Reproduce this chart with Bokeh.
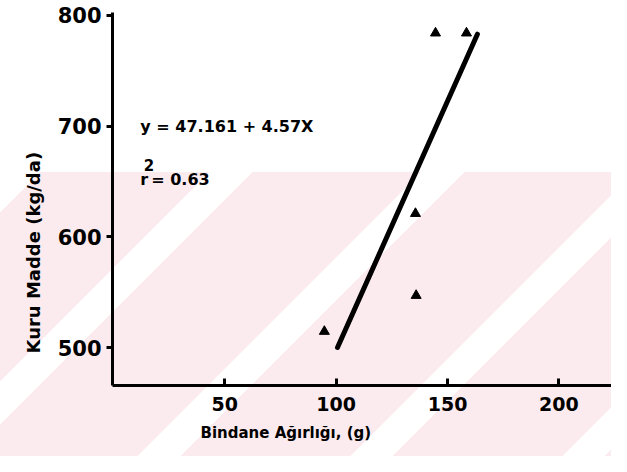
from bokeh.plotting import figure
from bokeh.models import Range1d, Label, FixedTicker, Title
from bokeh.embed import file_html
from bokeh.resources import INLINE

# data
grain_weight = [94.7, 135.9, 135.6, 144.6, 158.5]
dry_matter = [514.5, 547.0, 621.0, 784.0, 784.0]
fit_x = [100.6, 163.4]
fit_y = [500.0, 783.0]
x_ticks = [50, 100, 150, 200]
y_ticks = [500, 600, 700, 800]
equation_text = "y = 47.161 + 4.57X"
r2_text = "= 0.63"
x_title = "Bindane  Ağırlığı, (g)"
y_title = "Kuru  Madde  (kg/da)"

W, H = 611, 456
p = figure(width=W, height=H, output_backend="svg", toolbar_location=None,
           x_range=Range1d(-0.4, 223.6), y_range=Range1d(465.7, 802.6),
           min_border_left=112, min_border_right=0, min_border_top=12,
           min_border_bottom=71)
p.styles = {"background": "linear-gradient(to bottom, #ffffff 0px, #ffffff 172px, rgba(255,255,255,0) 172px), "
                          "repeating-linear-gradient(135deg, #fcebee 0px, #fcebee 120px, #ffffff 120px, #ffffff 150px)"}
p.border_fill_color = None
p.background_fill_color = None
p.outline_line_color = None
p.grid.visible = False

for ax in (p.xaxis[0], p.yaxis[0]):
    ax.axis_line_width = 3
    ax.axis_line_color = "black"
    ax.major_tick_line_width = 3
    ax.major_tick_line_color = "black"
    ax.minor_tick_line_color = None
    ax.major_label_text_font = "DejaVu Sans"
    ax.major_label_text_font_style = "bold"
    ax.major_label_text_color = "black"

p.xaxis.ticker = FixedTicker(ticks=x_ticks)
p.yaxis.ticker = FixedTicker(ticks=y_ticks)
p.xaxis.major_tick_in = 7
p.xaxis.major_tick_out = 0
p.yaxis.major_tick_in = 0
p.yaxis.major_tick_out = 6
p.xaxis.major_label_text_font_size = "19px"
p.yaxis.major_label_text_font_size = "21px"
p.xaxis.major_label_standoff = 11
p.yaxis.major_label_standoff = 5

title_style = dict(text_font="DejaVu Sans", text_font_style="bold", text_color="black")
p.add_layout(Title(text=x_title, align="left", offset=88, standoff=16,
                   text_font_size="15px", **title_style), "below")
p.add_layout(Title(text=y_title, align="left", offset=32, standoff=22,
                   text_font_size="18px", **title_style), "left")

p.line(fit_x, fit_y, line_width=5, line_color="black", line_cap="round")
p.scatter(grain_weight, dry_matter, marker="triangle", size=10,
          fill_color="black", line_color="black")

common = dict(text_font="DejaVu Sans", text_font_style="bold", text_color="black")
p.add_layout(Label(x=12.1, y=700, text=equation_text, text_font_size="16px",
                   text_baseline="middle", **common))
p.add_layout(Label(x=12.1, y=652, text="r", text_font_size="16px",
                   text_baseline="middle", **common))
p.add_layout(Label(x=13.6, y=665, text="2", text_font_size="15px",
                   text_baseline="middle", **common))
p.add_layout(Label(x=17.0, y=652, text=r2_text, text_font_size="16px",
                   text_baseline="middle", **common))

open("out.html", "w").write(file_html(p, INLINE))
